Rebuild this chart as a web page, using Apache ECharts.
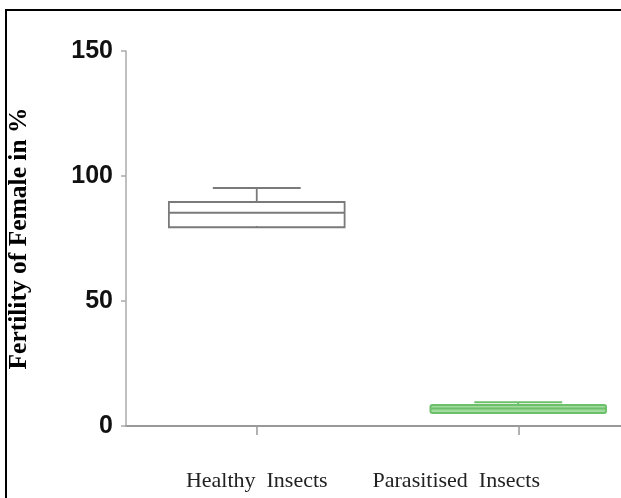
<!DOCTYPE html>
<html>
<head>
<meta charset="utf-8">
<script src="https://cdn.jsdelivr.net/npm/echarts@6/dist/echarts.min.js"></script>
<style>
html,body{margin:0;padding:0;background:#fff;}
#chart{position:absolute;left:0;top:0;width:621px;height:498px;}
#frame{position:absolute;left:5px;top:9px;width:616px;height:489px;border-top:2.5px solid #000;border-left:2.5px solid #000;box-sizing:border-box;pointer-events:none;}
</style>
</head>
<body>
<div id="chart"></div>
<div id="frame"></div>
<script>
var categories = ['Healthy  Insects', 'Parasitised  Insects'];
var minValues = [80, 5.2];
var q1Values = [79.5, 5.2];
var medianValues = [85.3, 7];
var q3Values = [89.6, 8.4];
var maxValues = [95.2, 9.5];
var yTicks = [0, 50, 100, 150];
var boxStroke = ['#7a7a7a', '#6cc06a'];
var boxFill = ['#ffffff', '#a3da9f'];

var data = categories.map(function (c, i) {
  return [i, minValues[i], q1Values[i], medianValues[i], q3Values[i], maxValues[i]];
});
var labelPads = [[0, 0, 0, 0], [0, 124, 0, 0]];
var categoryItems = categories.map(function (c, i) {
  return {value: c, textStyle: {padding: labelPads[i]}};
});

var chart = echarts.init(document.getElementById('chart'), null, {renderer: 'canvas'});
chart.setOption({
  animation: false,
  backgroundColor: '#fff',
  grid: {left: 126, width: 523, top: 51, bottom: 72, containLabel: false, outerBoundsMode: 'none'},
  xAxis: {
    type: 'category',
    data: categoryItems,
    boundaryGap: true,
    axisLine: {lineStyle: {color: '#999', width: 2}},
    axisTick: {show: true, alignWithLabel: true, length: 9, lineStyle: {color: '#999', width: 1.5}},
    axisLabel: {
      margin: 44, color: '#222', fontFamily: 'Liberation Serif', fontSize: 22, interval: 0
    }
  },
  yAxis: {
    type: 'value',
    min: 0, max: 150, interval: 50,
    name: 'Fertility of Female in %',
    nameLocation: 'middle',
    nameGap: 94,
    nameTextStyle: {fontFamily: 'Liberation Serif', fontWeight: 'bold', fontSize: 25.5, color: '#000'},
    axisLine: {show: true, lineStyle: {color: '#aaa', width: 1.5}},
    axisTick: {show: true, length: 5, lineStyle: {color: '#aaa', width: 1.5}},
    splitLine: {show: false},
    axisLabel: {
      margin: 13, color: '#111', fontFamily: 'Liberation Sans', fontWeight: 'bold', fontSize: 25,
      formatter: function (v) { return yTicks.indexOf(v) >= 0 ? String(v) : ''; }
    }
  },
  series: [{
    type: 'custom',
    data: data,
    encode: {x: 0, y: [1, 2, 3, 4, 5]},
    renderItem: function (params, api) {
      var i = api.value(0);
      var pMin = api.coord([i, api.value(1)]);
      var pQ1 = api.coord([i, api.value(2)]);
      var pMed = api.coord([i, api.value(3)]);
      var pQ3 = api.coord([i, api.value(4)]);
      var pMax = api.coord([i, api.value(5)]);
      var band = api.size([1, 0])[0];
      var bw = band * 0.672;
      var cw = bw * 0.5;
      var cx = pQ1[0];
      var stroke = boxStroke[i];
      var ls = {stroke: stroke, lineWidth: 1.8, fill: null};
      return {
        type: 'group',
        children: [
          {type: 'rect', shape: {x: cx - bw / 2, y: pQ3[1], width: bw, height: pQ1[1] - pQ3[1], r: i === 1 ? 2 : 0},
            style: {fill: boxFill[i], stroke: stroke, lineWidth: 1.8}},
          {type: 'line', shape: {x1: cx - bw / 2, y1: pMed[1], x2: cx + bw / 2, y2: pMed[1]}, style: ls},
          {type: 'line', shape: {x1: cx, y1: pQ3[1], x2: cx, y2: pMax[1]}, style: ls},
          {type: 'line', shape: {x1: cx - cw / 2, y1: pMax[1], x2: cx + cw / 2, y2: pMax[1]}, style: ls},
          {type: 'line', shape: {x1: cx, y1: pQ1[1], x2: cx, y2: pMin[1]}, style: ls},
          {type: 'line', shape: {x1: cx - cw / 2, y1: pMin[1], x2: cx + cw / 2, y2: pMin[1]}, style: ls, invisible: api.value(1) >= api.value(2)}
        ]
      };
    }
  }]
});
</script>
</body>
</html>
